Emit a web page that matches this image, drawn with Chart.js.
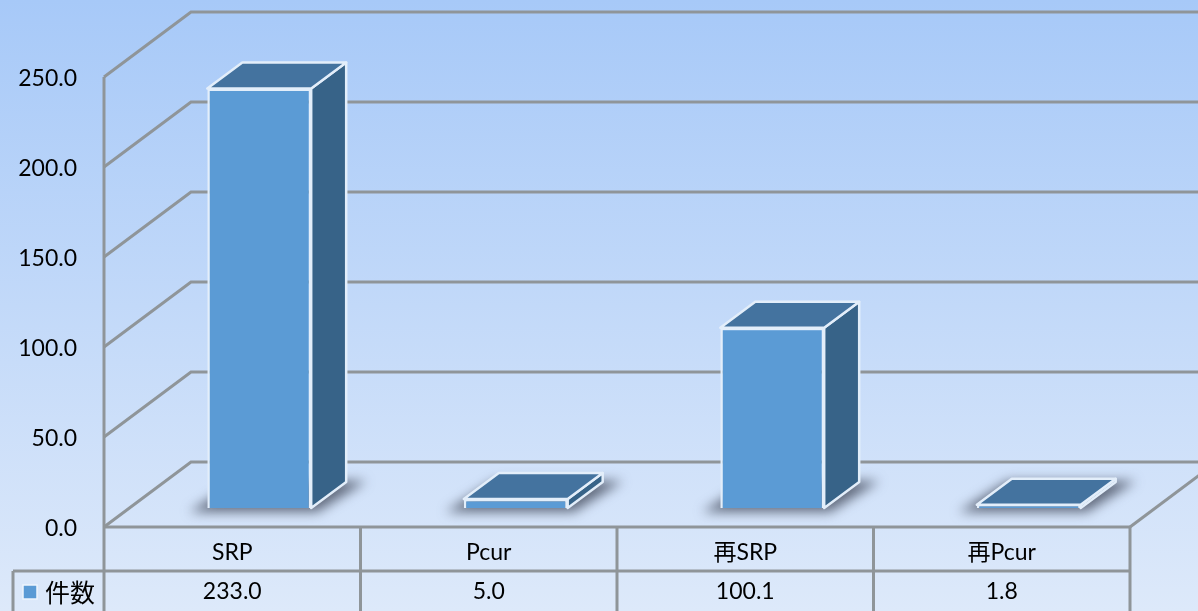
<!DOCTYPE html>
<html>
<head>
<meta charset="utf-8">
<script src="https://cdn.jsdelivr.net/npm/chart.js@4"></script>
<style>
    html, body { margin: 0; padding: 0; background: #dce9fa; }
    canvas { display: block; filter: blur(0.4px); }
</style>
</head>
<body>
<canvas id="barChart" width="1198" height="611"></canvas>
<script>
const categories = ['SRP', 'Pcur', '再SRP', '再Pcur'];
const counts = [233.0, 5.0, 100.1, 1.8];
const seriesName = '件数';
const yMax = 250;
const yStep = 50;

const FONT = 'Lato, "Noto Sans CJK JP", sans-serif';
const GRID = '#8f9599';
const FRONT = '#5b9bd5';
const SIDE = '#376388';
const TOP = '#44739f';
const EDGE = '#e3eefa';
// 3D offsets: back wall, and bar position/depth on the floor
const WALL = { x: 87, y: -65 };
const BAR_SHIFT = { x: 27, y: -19 };
const BAR_DEPTH = { x: 35, y: -26 };

function line(ctx, x1, y1, x2, y2) {
    ctx.beginPath();
    ctx.moveTo(x1, y1);
    ctx.lineTo(x2, y2);
    ctx.stroke();
}

function poly(ctx, pts) {
    ctx.beginPath();
    pts.forEach(function (p, i) {
        if (i === 0) ctx.moveTo(p[0], p[1]);
        else ctx.lineTo(p[0], p[1]);
    });
    ctx.closePath();
}

const background = {
    id: 'background',
    beforeDraw: function (chart) {
        const ctx = chart.ctx;
        const g = ctx.createLinearGradient(0, 0, 0, chart.height);
        g.addColorStop(0, '#a7c9f8');
        g.addColorStop(1, '#dde9fa');
        ctx.fillStyle = g;
        ctx.fillRect(0, 0, chart.width, chart.height);
    },
};

// Back wall, left wall and floor, hung on the y scale
const walls = {
    id: 'walls',
    beforeDatasetsDraw: function (chart) {
        const ctx = chart.ctx;
        const area = chart.chartArea;
        const y = chart.scales.y;
        ctx.save();
        ctx.strokeStyle = GRID;
        ctx.lineWidth = 3;
        y.ticks.forEach(function (t) {
            const py = y.getPixelForValue(t.value);
            ctx.beginPath();
            ctx.moveTo(area.left, py);
            ctx.lineTo(area.left + WALL.x, py + WALL.y);
            ctx.lineTo(chart.width + 20, py + WALL.y);
            ctx.stroke();
        });
        line(ctx, area.left, area.top, area.left, area.bottom);
        line(ctx, area.right, area.bottom, area.right + WALL.x, area.bottom + WALL.y);
        ctx.restore();

        // blurred shadows on the floor
        const meta = chart.getDatasetMeta(0);
        ctx.save();
        ctx.filter = 'blur(6px)';
        ctx.fillStyle = 'rgba(70,78,95,0.8)';
        meta.data.forEach(function (bar) {
            const x0 = bar.x - bar.width / 2 + BAR_SHIFT.x;
            const x1 = bar.x + bar.width / 2 + BAR_SHIFT.x;
            const b = bar.base + BAR_SHIFT.y;
            poly(ctx, [
                [x0 - 18, b + 4],
                [x1 + 6, b + 4],
                [x1 + BAR_DEPTH.x + 20, b + BAR_DEPTH.y - 1],
                [x0 + BAR_DEPTH.x - 4, b + BAR_DEPTH.y - 1],
            ]);
            ctx.fill();
        });
        ctx.restore();
    },
    // front faces sit forward of the axis plane, so shift them onto the floor
    beforeDatasetDraw: function (chart) {
        chart.ctx.save();
        chart.ctx.translate(BAR_SHIFT.x, BAR_SHIFT.y);
    },
    afterDatasetDraw: function (chart) {
        chart.ctx.restore();
    },
    afterDatasetsDraw: function (chart) {
        const ctx = chart.ctx;
        const meta = chart.getDatasetMeta(0);
        ctx.save();
        ctx.strokeStyle = EDGE;
        ctx.lineWidth = 2.5;
        ctx.lineJoin = 'round';
        meta.data.forEach(function (bar) {
            const x0 = bar.x - bar.width / 2 + BAR_SHIFT.x;
            const x1 = bar.x + bar.width / 2 + BAR_SHIFT.x;
            const t = bar.y + BAR_SHIFT.y;
            const b = bar.base + BAR_SHIFT.y;
            const dx = BAR_DEPTH.x;
            const dy = BAR_DEPTH.y;
            ctx.fillStyle = SIDE;
            poly(ctx, [[x1, t], [x1 + dx, t + dy], [x1 + dx, b + dy], [x1, b]]);
            ctx.fill();
            ctx.stroke();
            ctx.fillStyle = TOP;
            poly(ctx, [[x0, t], [x1, t], [x1 + dx, t + dy], [x0 + dx, t + dy]]);
            ctx.fill();
            ctx.stroke();
        });
        ctx.restore();
    },
};

// Data table under the plot
const dataTable = {
    id: 'dataTable',
    afterDraw: function (chart) {
        const ctx = chart.ctx;
        const area = chart.chartArea;
        const x = chart.scales.x;
        const rowY = area.bottom + 44;
        const legendLeft = 13;
        const step = (area.right - area.left) / categories.length;
        ctx.save();
        ctx.strokeStyle = GRID;
        ctx.lineWidth = 3;
        line(ctx, area.left, area.bottom, area.right, area.bottom);
        line(ctx, legendLeft, rowY, area.right, rowY);
        line(ctx, legendLeft, rowY, legendLeft, chart.height);
        for (let i = 0; i <= categories.length; i++) {
            line(ctx, area.left + step * i, area.bottom, area.left + step * i, chart.height);
        }
        ctx.fillStyle = '#000';
        ctx.font = '23px ' + FONT;
        ctx.textAlign = 'center';
        ctx.textBaseline = 'middle';
        counts.forEach(function (v, i) {
            ctx.fillText(v.toFixed(1), x.getPixelForTick(i), rowY + 21);
        });
        ctx.fillStyle = FRONT;
        ctx.strokeStyle = '#eef5fd';
        ctx.lineWidth = 1.5;
        ctx.fillRect(23, rowY + 14, 14, 14);
        ctx.strokeRect(23, rowY + 14, 14, 14);
        ctx.fillStyle = '#000';
        ctx.font = '25px "Noto Sans CJK JP", sans-serif';
        ctx.textAlign = 'left';
        ctx.fillText(seriesName, 45, rowY + 21);
        ctx.restore();
    },
};

new Chart(document.getElementById('barChart'), {
    type: 'bar',
    data: {
        labels: categories,
        datasets: [
            {
                label: seriesName,
                data: counts,
                backgroundColor: FRONT,
                borderColor: EDGE,
                borderWidth: 2.5,
                barPercentage: 0.405,
                categoryPercentage: 1,
            },
        ],
    },
    options: {
        responsive: false,
        animation: false,
        layout: { padding: { top: 77, right: 68, left: 0, bottom: 0 } },
        plugins: {
            legend: { display: false },
            tooltip: { enabled: false },
        },
        scales: {
            y: {
                min: 0,
                max: yMax,
                ticks: {
                    stepSize: yStep,
                    padding: 27,
                    labelOffset: 2,
                    color: '#000',
                    font: { family: FONT, size: 23 },
                    callback: function (value) {
                        return value.toFixed(1);
                    },
                },
                grid: { display: false, drawTicks: false },
                border: { display: false },
                afterFit: function (scale) {
                    scale.width = 104;
                },
            },
            x: {
                ticks: {
                    padding: 12,
                    maxRotation: 0,
                    color: '#000',
                    font: { family: FONT, size: 23 },
                },
                grid: { display: false, drawTicks: false },
                border: { display: false },
                afterFit: function (scale) {
                    scale.height = 84;
                },
            },
        },
    },
    plugins: [background, walls, dataTable],
});
</script>
</body>
</html>
